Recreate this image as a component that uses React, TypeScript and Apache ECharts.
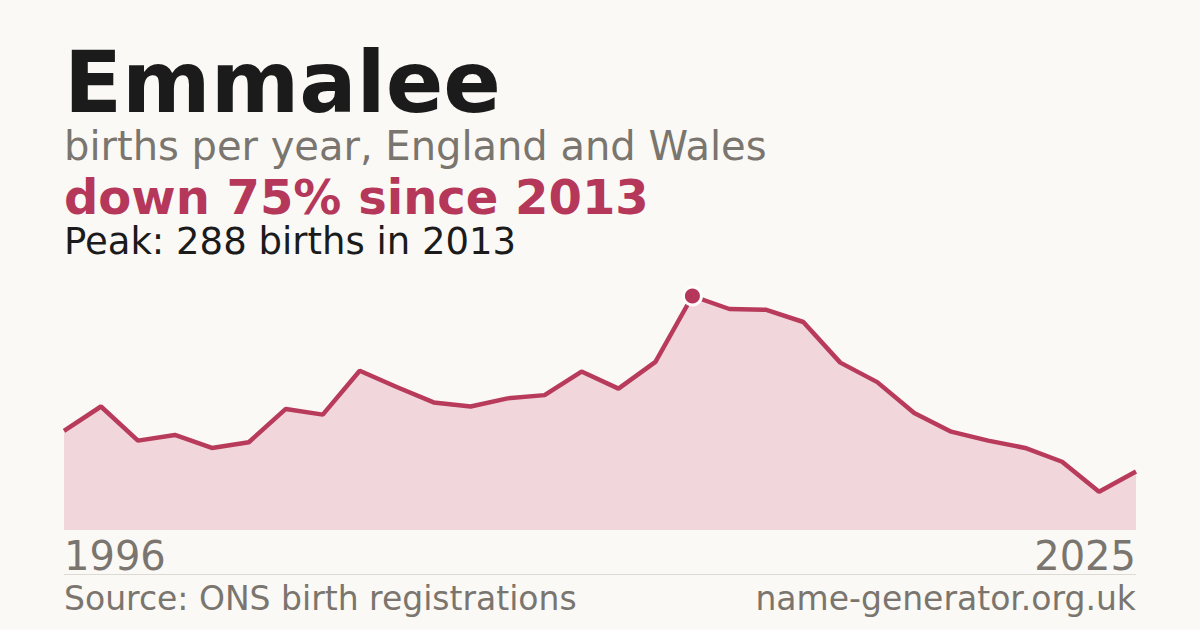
import React, { useEffect, useRef } from "react";
import * as echarts from "echarts";

const years: string[] = [
  "1996", "1997", "1998", "1999", "2000", "2001", "2002", "2003", "2004", "2005",
  "2006", "2007", "2008", "2009", "2010", "2011", "2012", "2013", "2014", "2015",
  "2016", "2017", "2018", "2019", "2020", "2021", "2022", "2023", "2024", "2025",
];
const births: number[] = [
  122, 152, 110, 117, 101, 108, 149, 142, 196, 176,
  157, 152, 162, 166, 195, 174, 207, 288, 272, 271,
  256, 206, 182, 144, 121, 110, 101, 84, 47, 72,
];

const nameTitle = "Emmalee";
const subtitle = "births per year, England and Wales";
const changeText = "down 75% since 2013";
const peakText = "Peak: 288 births in 2013";
const sourceText = "Source: ONS birth registrations";
const siteText = "name-generator.org.uk";

const FONT = "'DejaVu Sans', 'Noto Sans', sans-serif";
const BG = "#faf9f5";
const RED = "#b5385a";
const GRAY = "#7a756e";
const DARK = "#1b1b1b";

export default function App() {
  const ref = useRef<HTMLDivElement>(null);

  useEffect(() => {
    if (!ref.current) return;
    const chart = echarts.init(ref.current, undefined, { renderer: "svg" });
    const peakIdx = births.indexOf(Math.max(...births));
    const peakVal = births[peakIdx];

    chart.setOption({
      animation: false,
      backgroundColor: BG,
      grid: { left: 64, right: 64, top: 296, bottom: 100 },
      xAxis: {
        type: "category",
        data: years,
        boundaryGap: false,
        show: false,
      },
      yAxis: {
        type: "value",
        min: 0,
        max: peakVal,
        show: false,
      },
      series: [
        {
          type: "line",
          data: births,
          symbol: "none",
          lineStyle: { color: "#b83b5c", width: 4.5, join: "bevel" },
          areaStyle: { color: "#f1d6db", opacity: 1 },
          z: 2,
        },
        {
          type: "scatter",
          data: [[peakIdx, peakVal]],
          symbol: "circle",
          symbolSize: 18,
          itemStyle: { color: RED, borderColor: "#ffffff", borderWidth: 3, opacity: 1 },
          z: 3,
        },
      ],
      graphic: [
        {
          type: "text",
          x: 64,
          y: 82.5,
          style: {
            text: nameTitle,
            font: `bold 85px ${FONT}`,
            fill: DARK,
            verticalAlign: "middle",
          },
        },
        {
          type: "text",
          x: 64,
          y: 146.2,
          style: {
            text: subtitle,
            font: `40px ${FONT}`,
            fill: GRAY,
            verticalAlign: "middle",
          },
        },
        {
          type: "text",
          x: 64,
          y: 196.7,
          style: {
            text: changeText,
            font: `bold 48px ${FONT}`,
            fill: RED,
            verticalAlign: "middle",
          },
        },
        {
          type: "text",
          x: 64,
          y: 241.2,
          style: {
            text: peakText,
            font: `37px ${FONT}`,
            fill: DARK,
            verticalAlign: "middle",
          },
        },
        {
          type: "text",
          x: 64,
          y: 555.7,
          style: {
            text: years[0],
            font: `40px ${FONT}`,
            fill: GRAY,
            verticalAlign: "middle",
          },
        },
        {
          type: "text",
          x: 1136,
          y: 555.7,
          style: {
            text: years[years.length - 1],
            font: `40px ${FONT}`,
            fill: GRAY,
            align: "right",
            verticalAlign: "middle",
          },
        },
        {
          type: "line",
          shape: { x1: 64, y1: 574.5, x2: 1136, y2: 574.5 },
          style: { stroke: "#dddad3", lineWidth: 1 },
        },
        {
          type: "text",
          x: 64,
          y: 598.5,
          style: {
            text: sourceText,
            font: `33px ${FONT}`,
            fill: GRAY,
            verticalAlign: "middle",
          },
        },
        {
          type: "text",
          x: 1136,
          y: 598.5,
          style: {
            text: siteText,
            font: `33px ${FONT}`,
            fill: GRAY,
            align: "right",
            verticalAlign: "middle",
          },
        },
      ],
    });

    return () => chart.dispose();
  }, []);

  return (
    <div
      ref={ref}
      style={{ position: "fixed", left: 0, top: 0, width: 1200, height: 630 }}
    />
  );
}
